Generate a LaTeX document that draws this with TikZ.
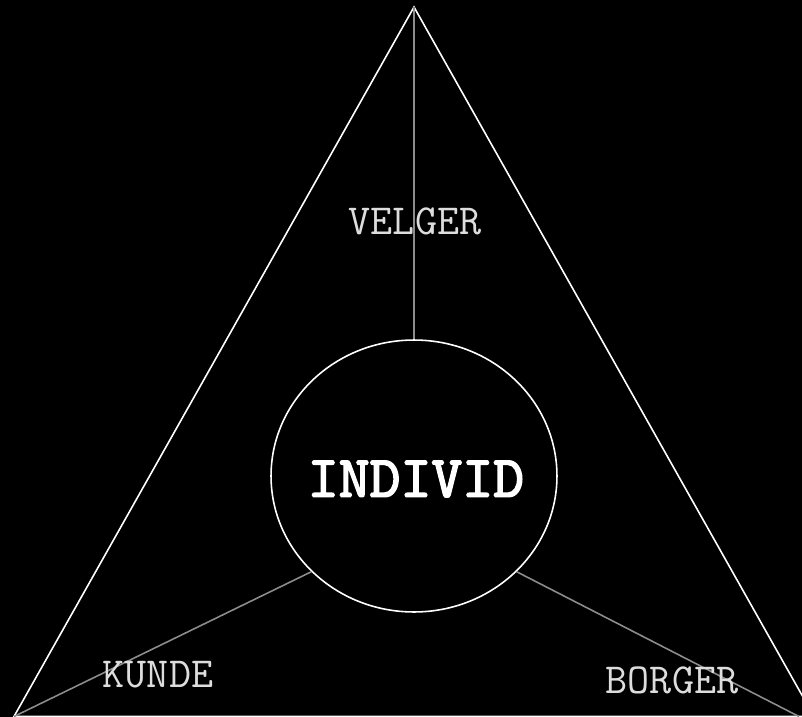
\documentclass[tikz,border=0pt]{standalone}
\usepackage{fontspec}
\newfontfamily\coremono{lmmono10-regular.otf}[AutoFakeBold=2.5]
\usepackage{tikz}
\usetikzlibrary{shapes.geometric, positioning}

\definecolor{labelgray}{HTML}{DDDDDD}
\definecolor{spokegray}{HTML}{8C8C8C}

\begin{document}
\begin{tikzpicture}[
    x=0.02cm, y=-0.02cm,
    edge/.style={draw=white, line width=0.9pt},
    spoke/.style={draw=spokegray, line width=0.9pt},
    role/.style={text=labelgray, font=\ttfamily\fontsize{24.4}{28}\selectfont, inner sep=0pt},
    core/.style={draw=white, fill=black, ellipse, line width=0.9pt, minimum width=5.72cm, minimum height=5.44cm, inner sep=0pt},
    corelabel/.style={text=white, inner sep=0pt, font=\coremono\bfseries\fontsize{33.5}{38}\selectfont}
]
    % Background
    \fill[black] (0,0) rectangle (802,717);
    \useasboundingbox (0,0) rectangle (802,717);

    % Triangle corners
    \coordinate (apex) at (414,7);
    \coordinate (left) at (14,716.5);
    \coordinate (right) at (814,716.5);
    \coordinate (borgerend) at (799,716.5);

    % Triangle
    \draw[edge] (apex) -- (left) -- (right) -- cycle;

    % Centre
    \node[core] (individ) at (414,476) {};
    \node[corelabel] (individtext) at (416,479) {INDIVID};

    % Spokes
    \draw[spoke] (apex) -- (individ.north);
    \draw[spoke] (left) -- (individ.223);
    \draw[spoke] (borgerend) -- (individ.317);

    % Roles
    \node[role] (velger) at (415,221) {VELGER};
    \node[role] (kunde) at (158,675) {KUNDE};
    \node[role] (borger) at (672,680) {BORGER};

\end{tikzpicture}
\end{document}
